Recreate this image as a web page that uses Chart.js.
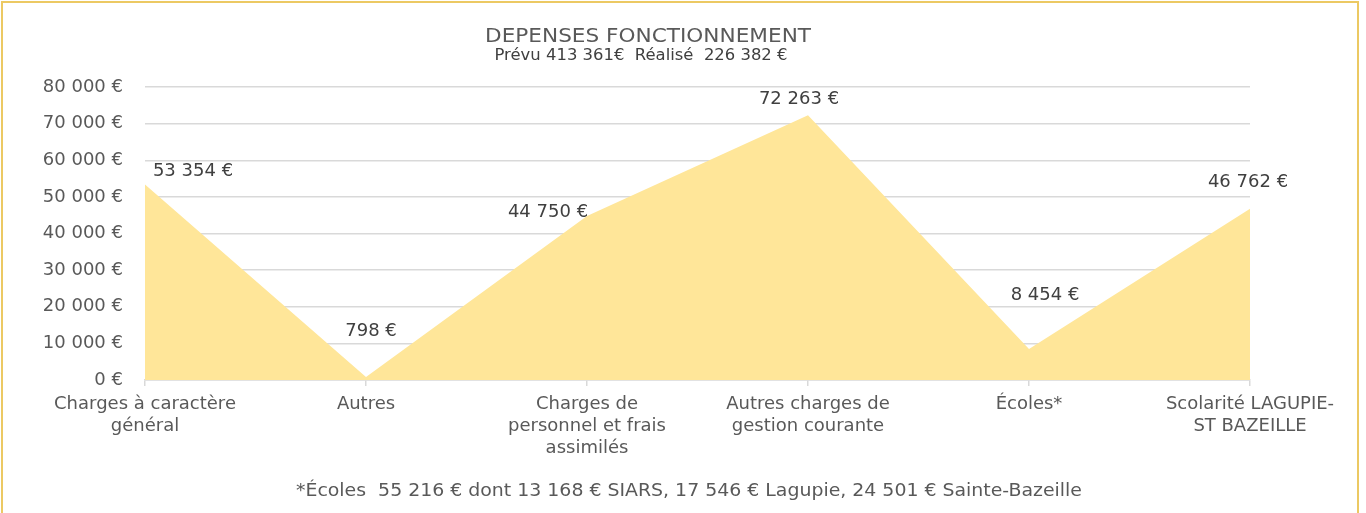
<!DOCTYPE html>
<html lang="fr">
<head>
<meta charset="utf-8">
<title>Dépenses fonctionnement</title>
<script src="https://cdn.jsdelivr.net/npm/chart.js@4.4.1/dist/chart.umd.min.js"></script>
<style>
  html, body { margin: 0; padding: 0; background: #fff; }
  body { width: 1366px; height: 513px; overflow: hidden; position: relative; }
  .frame { position: absolute; left: 1px; top: 1px; width: 1358px; height: 530px;
           border: 2px solid #ecc963; box-sizing: border-box; }
  .wrap { position: absolute; left: 0; top: 0; width: 1366px; height: 513px; }
</style>
</head>
<body>
<div class="frame"></div>
<div class="wrap"><canvas id="chart"></canvas></div>
<script>
/* ---------- données ---------- */
const CATEGORIES = [
  ["Charges à caractère", "général"],
  ["Autres"],
  ["Charges de", "personnel et frais", "assimilés"],
  ["Autres charges de", "gestion courante"],
  ["Écoles*"],
  ["Scolarité LAGUPIE-", "ST BAZEILLE"],
];
const REALISE = [53354, 798, 44750, 72263, 8454, 46762];
const Y_TICKS = [0, 10000, 20000, 30000, 40000, 50000, 60000, 70000, 80000];

const TITLE = "DEPENSES FONCTIONNEMENT";
const SUBTITLE = "Prévu 413 361€  Réalisé  226 382 €";
const FOOTNOTE = "*Écoles  55 216 € dont 13 168 € SIARS, 17 546 € Lagupie, 24 501 € Sainte-Bazeille";

/* ---------- style ---------- */
const FONT = "'DejaVu Sans', sans-serif";
const TXT = "#595959";
const GRID = "#d9d9d9";
// décalage des étiquettes (placées à la main dans l'original)
const LABEL_SHIFT = [[48, -13], [5, -46], [-39, -4], [-9, -16], [16, -54], [-2, -26]];

const euro = (v) => String(Math.round(v)).replace(/\B(?=(\d{3})+(?!\d))/g, " ") + " €";

// texte centré, ajusté à une largeur donnée
function fitText(ctx, txt, cx, cy, w, font) {
  ctx.font = font;
  const k = w / ctx.measureText(txt).width;
  ctx.save();
  ctx.translate(cx, cy);
  ctx.scale(k, 1);
  ctx.fillText(txt, 0, 0);
  ctx.restore();
}

const textPlugin = {
  id: "texts",
  afterDatasetsDraw(chart) {
    const { ctx } = chart;
    ctx.save();
    ctx.textAlign = "center";
    ctx.textBaseline = "middle";
    // étiquettes de valeurs
    ctx.font = `18px ${FONT}`;
    ctx.fillStyle = "#404040";
    chart.getDatasetMeta(0).data.forEach((pt, i) => {
      const [dx, dy] = LABEL_SHIFT[i];
      ctx.fillText(euro(REALISE[i]), pt.x + dx, pt.y + dy);
    });
    // titre
    ctx.fillStyle = TXT;
    fitText(ctx, TITLE, 648, 37, 326, `20px ${FONT}`);
    ctx.fillStyle = "#404040";
    fitText(ctx, SUBTITLE, 641, 56, 293, `15px ${FONT}`);
    // note
    ctx.fillStyle = TXT;
    fitText(ctx, FOOTNOTE, 689, 492, 786, `17px ${FONT}`);
    ctx.restore();
  },
};

new Chart(document.getElementById("chart"), {
  type: "line",
  data: {
    labels: CATEGORIES,
    datasets: [{
      data: REALISE,
      fill: "origin",
      backgroundColor: "#ffe699",
      borderWidth: 0,
      pointRadius: 0,
      tension: 0,
    }],
  },
  options: {
    responsive: true, maintainAspectRatio: false, animation: false,
    layout: { padding: { top: 87, right: 116, left: 0, bottom: 0 } },
    plugins: { legend: { display: false }, tooltip: { enabled: false } },
    scales: {
      x: {
        offset: false,
        grid: { drawOnChartArea: false, drawTicks: true, tickLength: 6, color: GRID, lineWidth: 1.5 },
        border: { display: true, color: GRID, width: 1.5 },
        ticks: { color: TXT, font: { family: FONT, size: 18, lineHeight: 22 / 18 }, maxRotation: 0, autoSkip: false, padding: 7 },
        afterFit: (s) => { s.height = 133; },
      },
      y: {
        min: 0, max: 80000,
        afterBuildTicks: (s) => { s.ticks = Y_TICKS.map((v) => ({ value: v })); },
        grid: { color: GRID, lineWidth: 1.5, drawTicks: false },
        border: { display: false },
        ticks: { color: TXT, font: { family: FONT, size: 18 }, padding: 22, callback: (v) => euro(v) },
        afterFit: (s) => { s.width = 145; },
      },
    },
  },
  plugins: [textPlugin],
});
</script>
</body>
</html>
